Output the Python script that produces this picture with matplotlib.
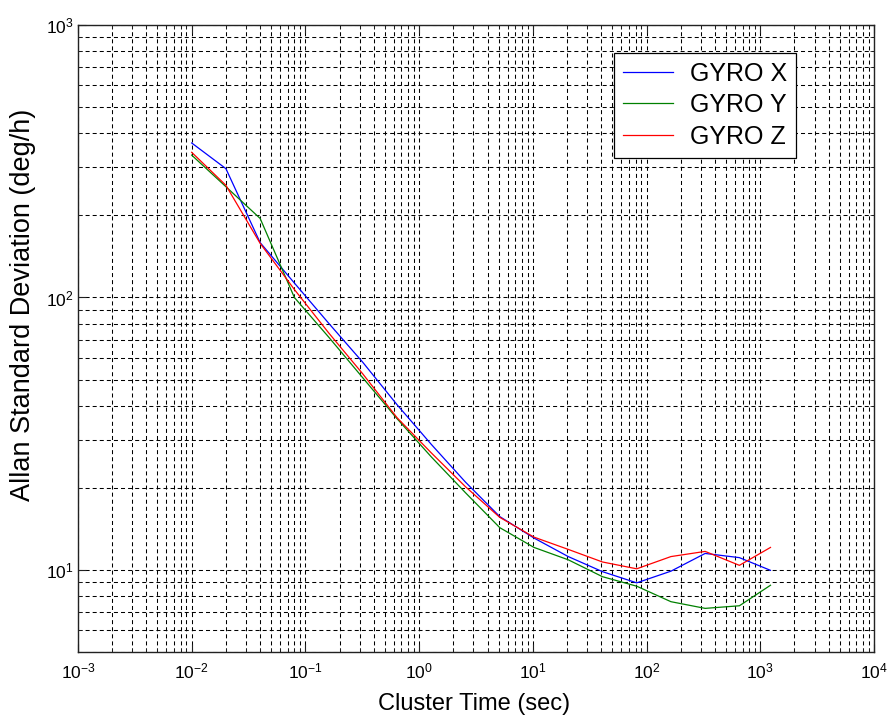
import matplotlib
matplotlib.use("Agg")
import matplotlib.pyplot as plt
from matplotlib.ticker import LogLocator, NullFormatter

plt.rcParams['font.family'] = ['Liberation Sans', 'DejaVu Sans']
plt.rcParams['mathtext.fontset'] = 'custom'
plt.rcParams['mathtext.rm'] = 'Liberation Sans'
plt.rcParams['mathtext.it'] = 'Liberation Sans'
plt.rcParams['lines.scale_dashes'] = False

# Cluster times (s)
tau = [0.01, 0.02, 0.04, 0.08, 0.16, 0.32, 0.64, 1.28, 2.56, 5.12,
       10.24, 20.48, 40.96, 81.92, 163.84, 327.68, 655.36, 1230.0]

# Allan deviation (deg/h) for each gyro axis
gyro_x = [369, 297, 159, 113, 80.5, 57.8, 40.4, 28.9, 21.0, 15.7,
          13.1, 11.2, 9.86, 8.97, 9.9, 11.5, 11.1, 9.97]
gyro_y = [333, 255, 195, 100, 71.6, 50.7, 35.9, 26.0, 19.2, 14.3,
          12.1, 10.9, 9.45, 8.72, 7.65, 7.23, 7.39, 8.79]
gyro_z = [341, 258, 158, 107, 74.2, 52.4, 36.2, 26.9, 20.2, 15.6,
          13.2, 11.9, 10.7, 10.1, 11.2, 11.7, 10.4, 12.1]

labels = ['GYRO X', 'GYRO Y', 'GYRO Z']
colors = ['#0000ff', '#008000', '#ff0000']

fig = plt.figure(figsize=(8.89, 7.18), dpi=100)
ax = fig.add_axes([0.0877, 0.0919, 0.8954, 0.8733])

for series, lab, col in zip([gyro_x, gyro_y, gyro_z], labels, colors):
    ax.loglog(tau, series, color=col, lw=0.9, label=lab)

ax.set_xlim(1e-3, 1e4)
ax.set_ylim(5, 1e3)

ax.xaxis.set_major_locator(LogLocator(base=10, numticks=20))
ax.xaxis.set_minor_locator(LogLocator(base=10, subs=range(2, 10), numticks=50))
ax.yaxis.set_major_locator(LogLocator(base=10, numticks=20))
ax.yaxis.set_minor_locator(LogLocator(base=10, subs=range(2, 10), numticks=50))
ax.xaxis.set_minor_formatter(NullFormatter())
ax.yaxis.set_minor_formatter(NullFormatter())

ax.grid(True, which='both', color='black', lw=0.75, linestyle=(0, (2.9, 2.2)))
ax.set_axisbelow(True)

ax.tick_params(which='both', direction='in', top=True, right=True,
               color='#222222', labelsize=12.5)
ax.tick_params(which='major', length=6, width=0.8)
ax.tick_params(which='minor', length=3, width=0.6,
               labelbottom=False, labelleft=False)
ax.tick_params(axis='x', which='major', pad=7)
ax.tick_params(axis='y', which='major', pad=3)
for s in ax.spines.values():
    s.set_color('#222222')
    s.set_linewidth(1.0)

ax.set_xlabel('Cluster Time (sec)', fontsize=17)
ax.xaxis.set_label_coords(0.497, -0.065)
ax.set_ylabel('Allan Standard Deviation (deg/h)', fontsize=19.5)
ax.yaxis.set_label_coords(-0.053, 0.553)

leg = ax.legend(loc='upper left', bbox_to_anchor=(0.673, 0.956),
                fontsize=18, frameon=True, fancybox=False, framealpha=1,
                edgecolor='black', handlelength=2.0, handletextpad=0.68,
                labelspacing=0.3, borderpad=0.36, borderaxespad=0)
leg.get_frame().set_linewidth(0.9)

fig.savefig('out.png', dpi=100, facecolor='white')
